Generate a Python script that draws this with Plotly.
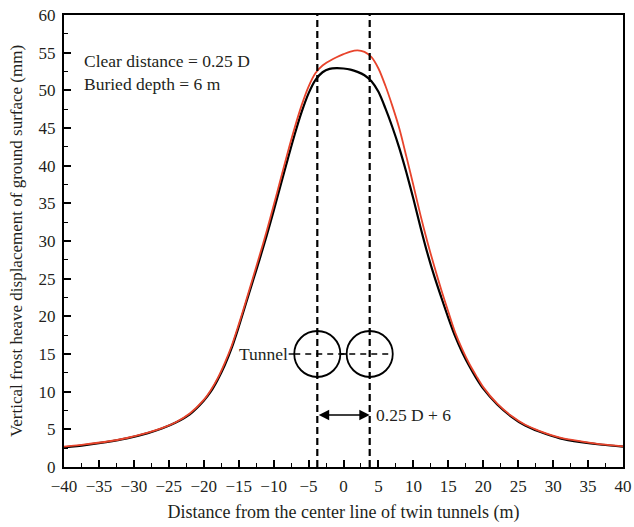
import plotly.graph_objects as go

# Ground-surface frost heave along the transverse section (mm)
x_pos = [-40, -37, -34, -31, -28, -26, -24, -22, -20, -19, -18, -17, -16, -15, -14, -13, -12,
         -11, -10, -9, -8, -7, -6, -5, -4, -3, -2, -1, 0, 1, 2, 3, 4, 5, 6, 7, 8,
         9, 10, 11, 12, 13, 14, 15, 16, 17, 18, 19, 20, 22, 24, 26, 28, 31, 34, 37, 40]

heave_black = [2.6, 2.9, 3.3, 3.8, 4.5, 5.1, 5.9, 7.0, 8.8, 10.0, 11.6, 13.5, 15.8, 18.6, 21.6, 24.6, 27.6,
               30.7, 34.0, 37.4, 40.8, 44.1, 47.1, 49.6, 51.4, 52.4, 52.85, 52.95, 52.9, 52.75, 52.45, 52.0, 51.2, 49.8, 47.6, 45.1, 42.3,
               39.1, 35.6, 31.9, 28.4, 25.3, 22.5, 19.8, 17.3, 15.2, 13.4, 11.8, 10.4, 8.3, 6.7, 5.5, 4.7, 3.8, 3.3, 2.95, 2.7]

heave_red = [2.7, 3.0, 3.35, 3.85, 4.55, 5.15, 5.95, 7.1, 8.9, 10.2, 11.8, 13.8, 16.1, 18.9, 21.9, 25.0, 28.1,
             31.3, 34.7, 38.2, 41.7, 45.0, 48.0, 50.5, 52.3, 53.3, 53.9, 54.4, 54.8, 55.15, 55.3, 55.1, 54.4, 52.9, 50.6, 47.9, 44.9,
             41.2, 37.4, 33.5, 29.9, 26.6, 23.5, 20.6, 17.8, 15.6, 13.7, 12.1, 10.6, 8.4, 6.8, 5.6, 4.8, 3.9, 3.4, 3.0, 2.75]

tunnel_x = [-3.75, 3.75]     # tunnel centre lines (m)
tunnel_y = 15                # tunnel axis elevation on the chart
tunnel_rx = 3.3
tunnel_ry = 3.05
dim_y = 6.9                  # height of the spacing dimension arrow

x_ticks = list(range(-40, 41, 5))
y_ticks = list(range(0, 61, 5))

FONT = "Liberation Serif"
INK = "#231f20"
RED = "#e8442c"

fig = go.Figure()
fig.add_trace(go.Scatter(x=x_pos, y=heave_black, mode="lines",
                         line=dict(color="black", width=2.2, shape="spline", smoothing=0.8),
                         showlegend=False))
fig.add_trace(go.Scatter(x=x_pos, y=heave_red, mode="lines",
                         line=dict(color=RED, width=1.8, shape="spline", smoothing=0.8),
                         showlegend=False))

shapes = []
# vertical dashed centre lines of the tunnels
for xc in tunnel_x:
    shapes.append(dict(type="line", x0=xc, x1=xc, y0=0, y1=60, xref="x", yref="y",
                       line=dict(color="black", width=2.2, dash="7px,4px")))
# tunnel cross-sections
for xc in tunnel_x:
    shapes.append(dict(type="circle", x0=xc - tunnel_rx, x1=xc + tunnel_rx,
                       y0=tunnel_y - tunnel_ry, y1=tunnel_y + tunnel_ry,
                       xref="x", yref="y", line=dict(color="black", width=1.8)))
# dashed horizontal axis through both tunnels
shapes.append(dict(type="line", x0=tunnel_x[0] - tunnel_rx, x1=tunnel_x[1] + tunnel_rx,
                   y0=tunnel_y, y1=tunnel_y, xref="x", yref="y",
                   line=dict(color="black", width=1.6, dash="6px,5px")))
# solid link between the two circles
shapes.append(dict(type="line", x0=tunnel_x[0] + tunnel_rx, x1=tunnel_x[1] - tunnel_rx,
                   y0=tunnel_y, y1=tunnel_y, xref="x", yref="y",
                   line=dict(color="black", width=1.6)))
# leader from the label to the left tunnel
shapes.append(dict(type="line", x0=tunnel_x[0] - tunnel_rx - 0.8, x1=tunnel_x[0] - tunnel_rx,
                   y0=tunnel_y, y1=tunnel_y, xref="x", yref="y",
                   line=dict(color="black", width=1.4)))

annotations = [
    dict(x=-37.4, y=53.9, xref="x", yref="y", text="Clear distance = 0.25 D",
         showarrow=False, xanchor="left", yanchor="middle",
         font=dict(family=FONT, size=17.5, color=INK)),
    dict(x=-37.4, y=50.8, xref="x", yref="y", text="Buried depth = 6 m",
         showarrow=False, xanchor="left", yanchor="middle",
         font=dict(family=FONT, size=17.5, color=INK)),
    dict(x=tunnel_x[0] - tunnel_rx - 0.8, y=tunnel_y, xref="x", yref="y", text="Tunnel",
         showarrow=False, xanchor="right", yanchor="middle", xshift=1,
         font=dict(family=FONT, size=17.5, color=INK)),
    # spacing dimension arrow
    dict(x=tunnel_x[1], y=dim_y, ax=tunnel_x[0], ay=dim_y, xref="x", yref="y",
         axref="x", ayref="y", text="", showarrow=True, arrowhead=2, startarrowhead=2,
         arrowside="end+start", arrowsize=1.3, arrowwidth=1.6, arrowcolor="black",
         standoff=0, startstandoff=0),
    dict(x=tunnel_x[1] + 0.6, y=dim_y, xref="x", yref="y", text="0.25 D + 6",
         showarrow=False, xanchor="left", yanchor="middle",
         font=dict(family=FONT, size=17.5, color=INK)),
]

axis_common = dict(showline=True, linecolor="black", linewidth=2, mirror=True,
                   ticks="inside", ticklen=7, tickwidth=1.6, tickcolor="black",
                   showgrid=False, zeroline=False, automargin=False,
                   tickfont=dict(family=FONT, size=17, color=INK))

fig.update_layout(
    width=634, height=527,
    margin=dict(l=64, r=11, t=15, b=60),
    paper_bgcolor="white", plot_bgcolor="white",
    shapes=shapes, annotations=annotations,
    xaxis=dict(range=[-40, 40], tickmode="array", tickvals=x_ticks, ticklabelstandoff=3,
               minor=dict(dtick=2.5, ticks="inside", ticklen=4, tickwidth=1.4, tickcolor="black"),
               title=dict(text="Distance from the center line of twin tunnels (m)",
                          font=dict(family=FONT, size=18, color=INK), standoff=10),
               **axis_common),
    yaxis=dict(range=[0, 60], tickmode="array", tickvals=y_ticks, ticklabelstandoff=3,
               minor=dict(dtick=2.5, ticks="inside", ticklen=4, tickwidth=1.4, tickcolor="black"),
               title=dict(text="Vertical frost heave displacement of ground surface (mm)",
                          font=dict(family=FONT, size=17, color=INK), standoff=12),
               **axis_common),
)

fig.write_html("out.html")
